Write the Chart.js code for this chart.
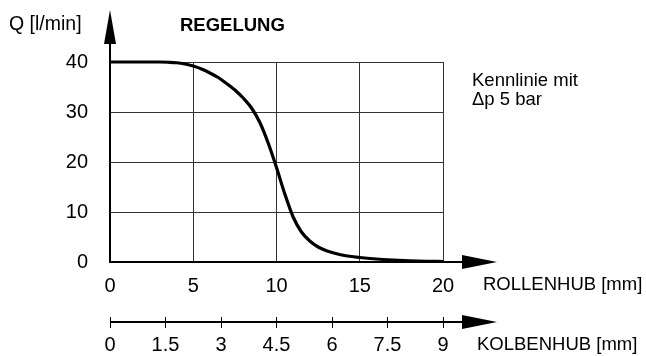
<!DOCTYPE html>
<html>
<head>
<meta charset="utf-8">
<script src="https://cdn.jsdelivr.net/npm/chart.js@4.4.1/dist/chart.umd.min.js"></script>
<style>
html,body{margin:0;padding:0;background:#fff;}
#wrap{width:646px;height:356px;}
</style>
</head>
<body>
<div id="wrap"><canvas id="c" width="646" height="356"></canvas></div>
<script>
const rollenhub = [0,1,2,3,3.5,4,4.5,5,5.5,6,6.5,7,7.5,8,8.5,9,9.5,10,10.5,11,11.5,12,12.5,13,13.5,14,15,16,17,18,19,20];
const flow = [40,40,40,40,39.95,39.85,39.6,39.2,38.6,37.8,36.9,35.7,34.4,32.8,30.8,27.9,23.8,18.9,13.6,9.0,6.0,4.2,3.0,2.25,1.75,1.35,0.9,0.6,0.4,0.25,0.15,0.1];
const rollenTicks = [0,5,10,15,20];
const kolbenTicks = [0,1.5,3,4.5,6,7.5,9];
const flowTicks = [0,10,20,30,40];
const yTitle = 'Q [l/min]';
const chartTitle = 'REGELUNG';
const noteLines = ['Kennlinie mit', '\u0394p 5 bar'];
const xTitle = 'ROLLENHUB [mm]';
const x2Title = 'KOLBENHUB [mm]';

const FONT = '"Liberation Sans", Arial, sans-serif';
Chart.defaults.font.family = FONT;
Chart.defaults.font.size = 20;
Chart.defaults.color = '#000';

function arrowRight(ctx, x0, xBase, xTip, y) {
  ctx.beginPath();
  ctx.moveTo(x0, y); ctx.lineTo(xBase, y); ctx.stroke();
  ctx.beginPath();
  ctx.moveTo(xBase, y - 7); ctx.lineTo(xTip, y); ctx.lineTo(xBase, y + 7); ctx.closePath();
  ctx.fill();
}

const decor = {
  id: 'decor',
  afterDraw(chart) {
    const ctx = chart.ctx;
    const xs = chart.scales.x, ys = chart.scales.y, x2 = chart.scales.x2;
    const left = xs.getPixelForValue(0);
    const right = xs.getPixelForValue(20);
    const y0 = ys.getPixelForValue(0);
    ctx.save();
    ctx.fillStyle = '#000';
    ctx.strokeStyle = '#000';
    ctx.lineWidth = 2;
    ctx.beginPath();
    ctx.moveTo(left, y0); ctx.lineTo(left, 43); ctx.stroke();
    ctx.beginPath();
    ctx.moveTo(left - 6, 44); ctx.lineTo(left, 10); ctx.lineTo(left + 6, 44); ctx.closePath();
    ctx.fill();
    arrowRight(ctx, right, right + 19, right + 54, y0);
    const yk = x2.top + 5;
    arrowRight(ctx, x2.getPixelForValue(0), right + 19, right + 54, yk);
    ctx.textBaseline = 'alphabetic';
    ctx.textAlign = 'left';
    ctx.font = '19.5px ' + FONT;
    ctx.fillText(yTitle, 9, 30);
    ctx.font = '18.5px ' + FONT;
    ctx.fillText(noteLines[0], 472, 86);
    ctx.fillText(noteLines[1], 472, 105);
    ctx.fillText(xTitle, 483, 290);
    ctx.fillText(x2Title, 477, 350);
    ctx.font = 'bold 18.5px ' + FONT;
    ctx.fillText(chartTitle, 180, 31);
    ctx.restore();
  }
};

new Chart(document.getElementById('c'), {
  type: 'line',
  data: {
    datasets: [{
      data: rollenhub.map((x, i) => ({x: x, y: flow[i]})),
      borderColor: '#000',
      borderWidth: 3.2,
      pointRadius: 0,
      cubicInterpolationMode: 'monotone',
      fill: false,
      clip: 6
    }]
  },
  plugins: [decor],
  options: {
    responsive: false,
    animation: false,
    devicePixelRatio: 1,
    layout: {padding: {left: 0, right: 203, top: 62, bottom: 0}},
    plugins: {legend: {display: false}, tooltip: {enabled: false}},
    scales: {
      x: {
        type: 'linear', position: 'bottom', min: 0, max: 20, weight: 0,
        afterBuildTicks: s => { s.ticks = rollenTicks.map(v => ({value: v})); },
        afterFit: s => { s.height = 55; },
        ticks: {padding: 12, maxRotation: 0, autoSkip: false, callback: v => String(v)},
        grid: {color: '#333', lineWidth: 1, drawTicks: false},
        border: {display: true, color: '#000', width: 2}
      },
      x2: {
        type: 'linear', position: 'bottom', min: 0, max: 9, weight: 1,
        afterBuildTicks: s => { s.ticks = kolbenTicks.map(v => ({value: v})); },
        afterFit: s => { s.height = 39; },
        ticks: {padding: 5, maxRotation: 0, autoSkip: false, callback: v => String(v)},
        grid: {drawOnChartArea: false, drawTicks: true, tickLength: 11, color: '#000', lineWidth: 1},
        border: {display: false}
      },
      y: {
        type: 'linear', position: 'left', min: 0, max: 40,
        afterBuildTicks: s => { s.ticks = flowTicks.map(v => ({value: v})); },
        afterFit: s => { s.width = 110; },
        ticks: {padding: 22, callback: v => String(v)},
        grid: {color: '#333', lineWidth: 1, drawTicks: false},
        border: {display: true, color: '#000', width: 2}
      }
    }
  }
});
</script>
</body>
</html>
